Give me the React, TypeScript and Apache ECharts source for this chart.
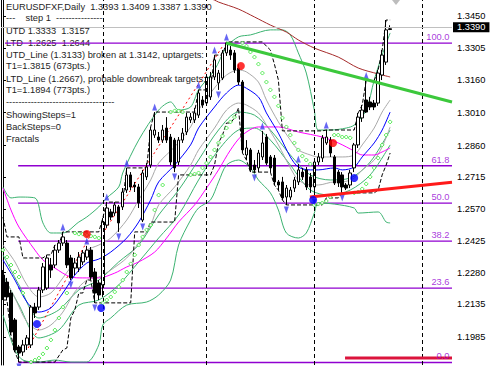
import React, { useEffect, useRef } from "react";
import * as echarts from "echarts";

// ---------- data ----------
const SLOTS = 113; // bar slots across the plot (incl. empty right shift)
const Y_MIN = 1.18585;
const Y_MAX = 1.35244;
const LAST_PRICE = 1.339;

const OPEN = [
  1.2269, 1.2237, 1.2187, 1.2064, 1.1941, 1.1918, 1.195, 1.195, 1.2123, 1.2123,
  1.2201, 1.221, 1.2315, 1.2315, 1.2383, 1.2415, 1.2415, 1.2347, 1.2301, 1.2301,
  1.2329, 1.2351, 1.2383, 1.2283, 1.2233, 1.2224, 1.2497, 1.2557, 1.2552, 1.258,
  1.258, 1.2657, 1.2726, 1.268, 1.2671, 1.252, 1.2717, 1.2771, 1.2908, 1.2899,
  1.2885, 1.294, 1.2899, 1.2885, 1.2785, 1.2885, 1.2922, 1.2977, 1.2977, 1.2999,
  1.3068, 1.3054, 1.3082, 1.3173, 1.3146, 1.3168, 1.3283, 1.3296, 1.3283, 1.3214,
  1.315, 1.2817, 1.284, 1.2771, 1.2758, 1.2808, 1.2899, 1.2808, 1.2803, 1.2694,
  1.2694, 1.2625, 1.2625, 1.2666, 1.2694, 1.2739, 1.2749, 1.2717, 1.2671, 1.2785,
  1.2803, 1.2872, 1.2885, 1.2808, 1.2739, 1.2726, 1.268, 1.268, 1.2758, 1.2863,
  1.2986, 1.3068, 1.3059, 1.3054, 1.3054, 1.3182, 1.3241, 1.3393,
];
const CLOSE = [
  1.2169, 1.2169, 1.2009, 1.1927, 1.1913, 1.195, 1.1982, 1.2123, 1.2096, 1.2201,
  1.2306, 1.2347, 1.2292, 1.2383, 1.2415, 1.2443, 1.2315, 1.2256, 1.2324, 1.2351,
  1.237, 1.2383, 1.226, 1.2187, 1.2178, 1.2511, 1.2575, 1.2534, 1.2589, 1.2507,
  1.2648, 1.2726, 1.2671, 1.2671, 1.2598, 1.2735, 1.2762, 1.2931, 1.2931, 1.2885,
  1.2931, 1.2885, 1.2785, 1.2758, 1.2885, 1.2917, 1.299, 1.299, 1.3009, 1.31,
  1.3045, 1.3173, 1.3173, 1.3251, 1.3191, 1.3283, 1.3328, 1.3273, 1.3205, 1.315,
  1.284, 1.2849, 1.2749, 1.2749, 1.2826, 1.2872, 1.278, 1.2758, 1.2694, 1.268,
  1.2621, 1.2666, 1.2657, 1.2703, 1.2749, 1.2717, 1.2671, 1.2671, 1.2785, 1.2808,
  1.2895, 1.2899, 1.2826, 1.2689, 1.2689, 1.2671, 1.2666, 1.2735, 1.2863, 1.299,
  1.3022, 1.3013, 1.3036, 1.3036, 1.3191, 1.3273, 1.3388, 1.339,
];
const HIGH = [
  1.2292, 1.2256, 1.2201, 1.2073, 1.195, 1.1973, 1.1995, 1.2132, 1.2142, 1.2215,
  1.2324, 1.2361, 1.2347, 1.2406, 1.2429, 1.2466, 1.2429, 1.2361, 1.2347, 1.2374,
  1.2383, 1.2402, 1.2397, 1.2301, 1.2246, 1.2529, 1.2602, 1.2571, 1.2602, 1.2589,
  1.2666, 1.2758, 1.2739, 1.2694, 1.2685, 1.2749, 1.278, 1.2945, 1.3013, 1.2922,
  1.2954, 1.299, 1.2913, 1.2895, 1.2899, 1.294, 1.3009, 1.3009, 1.3032, 1.3114,
  1.3086, 1.3187, 1.3196, 1.3273, 1.3205, 1.3296, 1.3333, 1.3314, 1.3296, 1.3232,
  1.3159, 1.2885, 1.2849, 1.2794, 1.284, 1.2927, 1.2913, 1.2817, 1.2817, 1.2703,
  1.2717, 1.268, 1.2671, 1.2717, 1.2776, 1.2758, 1.2762, 1.2735, 1.2803, 1.2826,
  1.2908, 1.2931, 1.2899, 1.2817, 1.2749, 1.2739, 1.2689, 1.2749, 1.2872, 1.3009,
  1.3045, 1.3157, 1.3082, 1.3068, 1.3205, 1.3296, 1.3433, 1.3409,
];
const LOW = [
  1.2155, 1.2155, 1.1995, 1.1918, 1.1872, 1.19, 1.1927, 1.1936, 1.2073, 1.211,
  1.2187, 1.2201, 1.2256, 1.2301, 1.237, 1.2402, 1.2301, 1.2246, 1.2269, 1.2283,
  1.2315, 1.2338, 1.2246, 1.2142, 1.2155, 1.2169, 1.2484, 1.252, 1.2539, 1.2466,
  1.2566, 1.2644, 1.2657, 1.2648, 1.2575, 1.2511, 1.2703, 1.2758, 1.2895, 1.2872,
  1.2872, 1.2872, 1.2771, 1.2739, 1.2771, 1.2872, 1.2908, 1.2963, 1.2963, 1.2986,
  1.3032, 1.3041, 1.3068, 1.3159, 1.3114, 1.3159, 1.3269, 1.3251, 1.3191, 1.3136,
  1.2826, 1.2794, 1.2739, 1.2735, 1.2739, 1.2794, 1.2771, 1.2739, 1.268, 1.2657,
  1.2612, 1.2589, 1.2612, 1.2648, 1.268, 1.2703, 1.2657, 1.2644, 1.2625, 1.2771,
  1.2785, 1.2863, 1.2808, 1.268, 1.2671, 1.2644, 1.2657, 1.2666, 1.2739, 1.2849,
  1.2968, 1.3009, 1.3022, 1.3022, 1.3041, 1.3159, 1.3228, 1.3387,
];

const PRICE_TICKS = [1.345, 1.3305, 1.316, 1.301, 1.286, 1.2715, 1.257, 1.2425, 1.228, 1.2135, 1.1985];

// indicators: [bar index, price]
const EMA_FAST: [number, number][] = [
  [0, 1.2338], [3, 1.2246], [6, 1.2146], [9, 1.21], [12, 1.2119], [15, 1.2187], [18, 1.2269],
  [21, 1.2324], [24, 1.2342], [27, 1.2374], [31, 1.2438], [34, 1.2511], [37, 1.2612], [39, 1.2694],
  [43, 1.2771], [47, 1.2863], [49, 1.294], [53, 1.3036], [56, 1.31], [59, 1.3136], [60, 1.3132],
  [64, 1.3082], [66, 1.3009], [69, 1.2917], [72, 1.2808], [74, 1.2762], [77, 1.2749], [79, 1.2749],
  [83, 1.2758], [85, 1.2749], [88, 1.2762], [90, 1.2808], [93, 1.2872], [95, 1.2931], [97, 1.3013],
];
const GRAY_UP: [number, number][] = [
  [0, 1.2406], [3, 1.2329], [6, 1.2224], [9, 1.2169], [12, 1.2187], [15, 1.2256], [18, 1.2329],
  [21, 1.2383], [24, 1.2406], [27, 1.2438], [31, 1.252], [34, 1.2612], [37, 1.2703], [39, 1.278],
  [43, 1.2854], [47, 1.2945], [49, 1.3022], [53, 1.3123], [56, 1.3182], [59, 1.3205], [61, 1.3196],
  [64, 1.315], [66, 1.3068], [69, 1.2968], [72, 1.2885], [74, 1.284], [77, 1.2817], [79, 1.2808],
  [83, 1.2808], [85, 1.2808], [88, 1.2817], [90, 1.2863], [93, 1.294], [95, 1.3013], [97, 1.3068],
];
const GRAY_LOW: [number, number][] = [
  [0, 1.2269], [3, 1.2164], [6, 1.2055], [9, 1.2018], [12, 1.2041], [15, 1.21], [18, 1.2192],
  [21, 1.2246], [24, 1.226], [27, 1.2292], [31, 1.2347], [34, 1.2415], [37, 1.2497], [39, 1.2589],
  [43, 1.2671], [47, 1.2771], [49, 1.284], [53, 1.294], [56, 1.3022], [59, 1.3054], [61, 1.3045],
  [64, 1.3009], [66, 1.2954], [69, 1.2863], [72, 1.2758], [74, 1.2703], [77, 1.268], [79, 1.268],
  [83, 1.2694], [85, 1.2694], [88, 1.2712], [90, 1.2749], [93, 1.2794], [95, 1.2854], [97, 1.2945],
];
const ENV_UP: [number, number][] = [
  [0, 1.2361], [4, 1.2224], [9, 1.2073], [14, 1.211], [19, 1.2201], [24, 1.2246], [29, 1.2329],
  [34, 1.2406], [39, 1.2543], [44, 1.2657], [49, 1.2794], [54, 1.2931], [59, 1.3013], [63, 1.2999],
  [67, 1.2931], [72, 1.2817], [77, 1.2726], [82, 1.2703], [87, 1.2712], [92, 1.2785], [97, 1.2931],
];
const ENV_LOW: [number, number][] = [
  [0, 1.2269], [4, 1.2132], [9, 1.1982], [14, 1.2018], [19, 1.2132], [24, 1.2155], [29, 1.2224],
  [34, 1.2329], [39, 1.2438], [44, 1.2543], [49, 1.2703], [54, 1.284], [59, 1.2931], [63, 1.294],
  [67, 1.2885], [72, 1.2771], [77, 1.2657], [82, 1.2634], [87, 1.2657], [92, 1.2726], [97, 1.2863],
];
const SMA_SLOW: [number, number][] = [
  [0, 1.2666], [2, 1.2566], [4, 1.2488], [8, 1.2383], [10, 1.2338], [13, 1.2301], [17, 1.226],
  [20, 1.2256], [24, 1.2256], [28, 1.2278], [31, 1.2306], [34, 1.2329], [38, 1.2374], [41, 1.2438],
  [44, 1.2511], [48, 1.2589], [51, 1.2666], [54, 1.2749], [57, 1.284], [60, 1.2908], [64, 1.2945],
  [69, 1.2945], [74, 1.2922], [80, 1.2899], [84, 1.2872], [88, 1.2835], [90, 1.2817], [93, 1.2817],
  [95, 1.2831], [97, 1.2849],
];
const SMA_LONG: [number, number][] = [
  [49, 1.3552], [53, 1.3524], [54, 1.3515], [59, 1.3483], [63, 1.3447], [67, 1.341], [71, 1.3378],
  [74, 1.3342], [78, 1.3305], [84, 1.3264], [89, 1.3214], [94, 1.3187], [97, 1.3173],
];
const BB_UP: [number, number][] = [
  [0, 1.2671], [2, 1.2621], [4, 1.2625], [8, 1.2621], [10, 1.2507], [12, 1.2461], [15, 1.2461],
  [19, 1.2511], [21, 1.2534], [24, 1.258], [26, 1.2621], [29, 1.2671], [30, 1.2735], [34, 1.2885],
  [39, 1.3022], [42, 1.3059], [44, 1.3022], [47, 1.3036], [49, 1.3114], [53, 1.3205], [56, 1.331],
  [59, 1.3356], [62, 1.3365], [67, 1.3388], [70, 1.3388], [72, 1.3365], [74, 1.3283], [76, 1.3191],
  [78, 1.3022], [79, 1.2931], [82, 1.2931], [86, 1.294], [88, 1.2954], [91, 1.3022], [93, 1.3159],
  [95, 1.3273], [97, 1.3374],
];
const BB_LOW: [number, number][] = [
  [0, 1.2087], [3, 1.1927], [5, 1.1881], [9, 1.1872], [13, 1.1881], [17, 1.1872], [21, 1.1872],
  [24, 1.195], [25, 1.2041], [27, 1.2073], [31, 1.2132], [36, 1.2146], [39, 1.2178], [42, 1.2246],
  [44, 1.2406], [47, 1.252], [49, 1.2575], [52, 1.2612], [54, 1.2694], [56, 1.2771], [59, 1.2794],
  [62, 1.2758], [64, 1.2703], [67, 1.2644], [69, 1.2566], [71, 1.2461], [74, 1.2438], [76, 1.2461],
  [78, 1.2552], [79, 1.2598], [83, 1.2593], [88, 1.2575], [89, 1.2552], [94, 1.2557], [96, 1.2511],
  [97, 1.2507],
];
const CHANNEL_UP: [number, number][] = [
  [0, 1.2534], [1, 1.2443], [5, 1.2347], [11, 1.2361], [13, 1.2406], [15, 1.2466], [25, 1.2529],
  [26, 1.2602], [31, 1.2758], [37, 1.2945], [38, 1.3013], [49, 1.3114], [53, 1.3273], [56, 1.3333],
  [66, 1.3314], [67, 1.3296], [68, 1.3232], [69, 1.3159], [70, 1.2927], [81, 1.2931], [89, 1.3009],
  [90, 1.3045], [91, 1.3157], [94, 1.3205], [95, 1.3296], [96, 1.3433], [97, 1.3433],
];
const CHANNEL_LOW: [number, number][] = [
  [0, 1.2155], [2, 1.1995], [3, 1.1918], [4, 1.1872], [14, 1.19], [15, 1.1927], [16, 1.1936],
  [17, 1.2073], [18, 1.211], [19, 1.2187], [21, 1.2246], [23, 1.2142], [33, 1.2466], [37, 1.2511],
  [44, 1.2726], [53, 1.2771], [54, 1.2872], [55, 1.2908], [56, 1.2963], [58, 1.2986], [59, 1.3032],
  [60, 1.2826], [61, 1.2794], [62, 1.2739], [68, 1.268], [69, 1.2657], [70, 1.2612], [71, 1.2589],
  [81, 1.2621], [85, 1.2644], [94, 1.2657], [95, 1.2726], [96, 1.2771], [97, 1.2826],
];
const PSAR: [number, number][] = [
  [0, 1.2383], [1, 1.2351], [2, 1.2315], [3, 1.2283], [4, 1.226], [5, 1.2187],
  [7, 1.1872], [8, 1.1881], [9, 1.189], [10, 1.1909], [11, 1.1936], [12, 1.1973], [13, 1.2018],
  [14, 1.2073], [15, 1.2123], [16, 1.2187],
  [18, 1.2461], [19, 1.2456], [20, 1.2456], [21, 1.2452], [22, 1.2447], [23, 1.2443], [24, 1.2438],
  [25, 1.2142], [26, 1.2155], [27, 1.2169], [28, 1.2192], [29, 1.2215], [30, 1.2246], [31, 1.2283],
  [32, 1.232], [33, 1.2361], [34, 1.2406], [35, 1.2443], [36, 1.2475], [37, 1.2497], [38, 1.2566],
  [39, 1.2634], [40, 1.268],
  [42, 1.3013], [43, 1.3018], [44, 1.3018], [45, 1.3013],
  [47, 1.2726], [48, 1.273], [49, 1.2735], [50, 1.2758], [51, 1.278], [52, 1.2808], [53, 1.284],
  [54, 1.2872], [55, 1.2904], [56, 1.294], [57, 1.2968], [58, 1.299],
  [60, 1.3328], [61, 1.3314], [62, 1.3287], [63, 1.3264], [64, 1.3232], [65, 1.3191], [66, 1.315],
  [67, 1.3114], [68, 1.3082], [69, 1.3041], [70, 1.2986], [71, 1.2945], [72, 1.2908], [73, 1.2872],
  [74, 1.284], [75, 1.2812], [76, 1.2794], [77, 1.2776],
  [78, 1.2589], [79, 1.2593], [80, 1.2598], [81, 1.2607], [82, 1.2625],
  [83, 1.2908], [84, 1.2908], [85, 1.2899], [86, 1.2899], [87, 1.2895],
  [88, 1.2644], [89, 1.2648], [90, 1.2662], [91, 1.2685], [92, 1.2717], [93, 1.2758], [94, 1.2803],
  [95, 1.2863], [96, 1.2908], [97, 1.2968],
];
const FRACTAL_UP: [number, number][] = [
  [15, 1.2466], [21, 1.2402], [26, 1.2602], [31, 1.2758], [38, 1.3013], [49, 1.3114], [53, 1.3273],
  [56, 1.3333], [65, 1.2927], [74, 1.2776], [81, 1.2931], [91, 1.3157],
];
const FRACTAL_DOWN: [number, number][] = [
  [4, 1.1872], [17, 1.2246], [23, 1.2142], [29, 1.2466], [35, 1.2511], [43, 1.2739], [54, 1.3114],
  [63, 1.2735], [71, 1.2589], [78, 1.2625], [85, 1.2644],
];
const RED_SIGNALS: [number, number][] = [[21, 1.2456], [59.6, 1.3223], [82.7, 1.2872]];
const BLUE_SIGNALS: [number, number][] = [[8.5, 1.2046], [24.6, 1.2119], [77.7, 1.2612], [88, 1.2712]];

const FIB_LABELS = ["100.0", "61.8", "50.0", "38.2", "23.6", "0.0"];
const FIB_PRICES = [1.3328, 1.2768, 1.2597, 1.2424, 1.2209, 1.187];
const FIB_START = [0.5, 3.8, 3.8, 3.8, 3.8, 3.8];

const UTD_LINE: [number, number][] = [[55.9, 1.3328], [112.5, 1.3059]];
const LTD_LINE: [number, number][] = [[76.9, 1.2625], [112.5, 1.2693]];
const TARGET_LINE: [number, number][] = [[85.7, 1.189], [112.5, 1.189]];
const TREND_DOTS_A: [number, number][] = [[6.3, 1.1936], [21.8, 1.2447]];
const TREND_DOTS_B: [number, number][] = [[25.6, 1.2475], [54.9, 1.331]];
const SEPARATORS = [25, 51, 78, 105];

const INFO_LINES = [
  "EURUSDFXF,Daily  1.3393 1.3409 1.3387 1.3390",
  "---    step 1  ---------------",
  "UTD 1.3333  1.3157",
  "LTD  1.2625  1.2644",
  "UTD_Line (1.3133) broken at 1.3142, uptargets:",
  "T1=1.3815 (673pts.)",
  "LTD_Line (1.2667), probable downbreak targets:",
  "T1=1.1894 (773pts.)",
  "-----------------------------------",
  "ShowingSteps=1",
  "BackSteps=0",
  "Fractals",
];

// ---------- layout ----------
const INFO_Y = [6.7, 17.5, 30.7, 42.7, 54.7, 66.3, 78.7, 90.3, 101.5, 115, 127, 138.5];
const FONT = "Liberation Sans";
const FS = 9.3;

const stepify = (keys: [number, number][]) => {
  const out: [number, number][] = [];
  keys.forEach(([i, v], k) => {
    out.push([i, v]);
    const next = keys[k + 1];
    if (next && next[0] - 1 > i) out.push([next[0] - 1, v]);
  });
  return out;
};

export default function App() {
  const ref = useRef<HTMLDivElement>(null);

  useEffect(() => {
    document.body.style.margin = "0";
    if (!ref.current) return;
    const chart = echarts.init(ref.current, undefined, { renderer: "svg" });

    const lineS = (data: any[], color: string, extra: any = {}) => ({
      type: "line",
      xAxisIndex: 1,
      yAxisIndex: 0,
      data,
      showSymbol: false,
      symbol: "none",
      silent: true,
      clip: true,
      z: 2,
      lineStyle: { color, width: 1 },
      ...extra,
    });

    const series: any[] = [
      lineS(BB_UP, "#3cb371", { smooth: 0.3 }),
      lineS(BB_LOW, "#3cb371", { smooth: 0.3 }),
      lineS(ENV_UP, "#3cb371", { smooth: 0.3 }),
      lineS(ENV_LOW, "#3cb371", { smooth: 0.3 }),
      lineS(GRAY_UP, "#a9a9a9", { smooth: 0.3 }),
      lineS(GRAY_LOW, "#a9a9a9", { smooth: 0.3 }),
      lineS(SMA_SLOW, "#ff00ff", { smooth: 0.3 }),
      lineS(SMA_LONG, "#a52a2a", { smooth: 0.3 }),
      lineS(stepify(CHANNEL_UP), "#000000", { lineStyle: { color: "#000", width: 1, type: [4, 2] } }),
      lineS(stepify(CHANNEL_LOW), "#000000", { lineStyle: { color: "#000", width: 1, type: [4, 2] } }),
      lineS(TREND_DOTS_A, "#ff0000", { lineStyle: { color: "#ff0000", width: 1, type: [2, 3] } }),
      lineS(TREND_DOTS_B, "#ff0000", { lineStyle: { color: "#ff0000", width: 1, type: [2, 3] } }),
      ...FIB_PRICES.map((p, k) =>
        lineS(
          [
            [FIB_START[k], p],
            [SLOTS - 0.5, p],
          ],
          "#9400d3",
          { z: 1, lineStyle: { color: "#9000d0", width: 1.3 } }
        )
      ),
      lineS(EMA_FAST, "#0000ff", {
        smooth: 0.3,
        markLine: {
          silent: true,
          symbol: ["none", "none"],
          animation: false,
          data: [
            ...SEPARATORS.map((s) => ({
              xAxis: s,
              lineStyle: { color: "#000", width: 1, type: [4, 3] },
              label: { show: false },
            })),
            {
              yAxis: LAST_PRICE,
              lineStyle: { color: "#c0c0c0", width: 1, type: "solid" },
              label: {
                show: true,
                position: "end",
                distance: 1,
                formatter: LAST_PRICE.toFixed(4),
                backgroundColor: "#000",
                color: "#fff",
                fontFamily: FONT,
                fontSize: FS,
                lineHeight: 9,
                padding: [1, 4, 0, 4],
              },
            },
          ],
        },
      }),
      {
        type: "candlestick",
        xAxisIndex: 0,
        yAxisIndex: 0,
        barWidth: 3,
        z: 4,
        silent: true,
        data: OPEN.map((o, i) => [o, CLOSE[i], LOW[i], HIGH[i]]),
        itemStyle: {
          color: "#ffffff",
          color0: "#000000",
          borderColor: "#000000",
          borderColor0: "#000000",
          borderWidth: 1,
        },
      },
      {
        type: "scatter",
        xAxisIndex: 1,
        yAxisIndex: 0,
        data: PSAR,
        symbol: "diamond",
        symbolSize: 4,
        silent: true,
        z: 5,
        itemStyle: { color: "#ffffff", borderColor: "#33e633", borderWidth: 1 },
      },
      {
        type: "scatter",
        xAxisIndex: 1,
        yAxisIndex: 0,
        data: FRACTAL_UP,
        symbol: "triangle",
        symbolSize: [5, 7],
        symbolOffset: [0, -5],
        silent: true,
        z: 6,
        itemStyle: { color: "#4040f0" },
      },
      {
        type: "scatter",
        xAxisIndex: 1,
        yAxisIndex: 0,
        data: FRACTAL_DOWN,
        symbol: "triangle",
        symbolSize: [5, 7],
        symbolRotate: 180,
        symbolOffset: [0, 5],
        silent: true,
        z: 6,
        itemStyle: { color: "#4040f0" },
      },
      lineS(UTD_LINE, "#3cc83c", { z: 7, lineStyle: { color: "#3cc83c", width: 3 } }),
      lineS(LTD_LINE, "#ff1a1a", { z: 7, lineStyle: { color: "#ff1a1a", width: 3 } }),
      lineS(TARGET_LINE, "#dc143c", { z: 7, lineStyle: { color: "#dc143c", width: 3 } }),
      {
        type: "scatter",
        xAxisIndex: 1,
        yAxisIndex: 0,
        data: RED_SIGNALS,
        symbolSize: 8,
        silent: true,
        z: 8,
        itemStyle: { color: "#ff0000" },
      },
      {
        type: "scatter",
        xAxisIndex: 1,
        yAxisIndex: 0,
        data: BLUE_SIGNALS,
        symbolSize: 8,
        silent: true,
        z: 8,
        itemStyle: { color: "#0000ff" },
      },
      {
        type: "scatter",
        xAxisIndex: 1,
        yAxisIndex: 0,
        silent: true,
        z: 9,
        symbolSize: 1,
        itemStyle: { color: "rgba(0,0,0,0)" },
        data: FIB_PRICES.map((p, k) => ({ value: [SLOTS - 0.5, p], name: FIB_LABELS[k] })),
        label: {
          show: true,
          position: "left",
          distance: 2,
          offset: [0, -6],
          formatter: (d: any) => d.name,
          color: "#9400d3",
          fontFamily: FONT,
          fontSize: FS,
        },
      },
    ];

    chart.setOption({
      animation: false,
      backgroundColor: "#ffffff",
      textStyle: { fontFamily: FONT },
      grid: { left: 1, right: 38, top: 0, bottom: 1, containLabel: false },
      xAxis: [
        {
          type: "category",
          data: Array.from({ length: SLOTS }, (_, i) => String(i)),
          boundaryGap: true,
          show: false,
        },
        { type: "value", min: -0.5, max: SLOTS - 0.5, show: false },
      ],
      yAxis: [
        {
          type: "value",
          position: "right",
          min: Y_MIN,
          max: Y_MAX,
          scale: true,
          splitLine: { show: false },
          axisLine: { show: true, lineStyle: { color: "#000", width: 1 } },
          axisTick: {
            show: true,
            length: 3,
            customValues: PRICE_TICKS,
            lineStyle: { color: "#000" },
          },
          axisLabel: {
            show: true,
            customValues: PRICE_TICKS,
            formatter: (v: number) => v.toFixed(4),
            margin: 5,
            color: "#000",
            fontFamily: FONT,
            fontSize: FS,
          },
        },
        {
          type: "value",
          position: "left",
          min: Y_MIN,
          max: Y_MAX,
          splitLine: { show: false },
          axisLine: { show: true, lineStyle: { color: "#000", width: 1 } },
          axisTick: { show: false },
          axisLabel: { show: false },
        },
      ],
      graphic: {
        elements: [
          ...INFO_LINES.map((t, i) => ({
            type: "text",
            x: 6,
            y: INFO_Y[i],
            silent: true,
            z: 1,
            style: {
              text: t,
              fill: "#1e1e1e",
              fontFamily: FONT,
              fontSize: FS,
              verticalAlign: "middle",
              align: "left",
            },
          })),
          {
            type: "polygon",
            silent: true,
            z: 10,
            shape: { points: [[392, 0], [400, 0], [396, 5]] },
            style: { fill: "#bdbdbd" },
          },
        ],
      },
      series,
    });

    return () => chart.dispose();
  }, []);

  return <div ref={ref} style={{ width: 490, height: 366 }} />;
}
